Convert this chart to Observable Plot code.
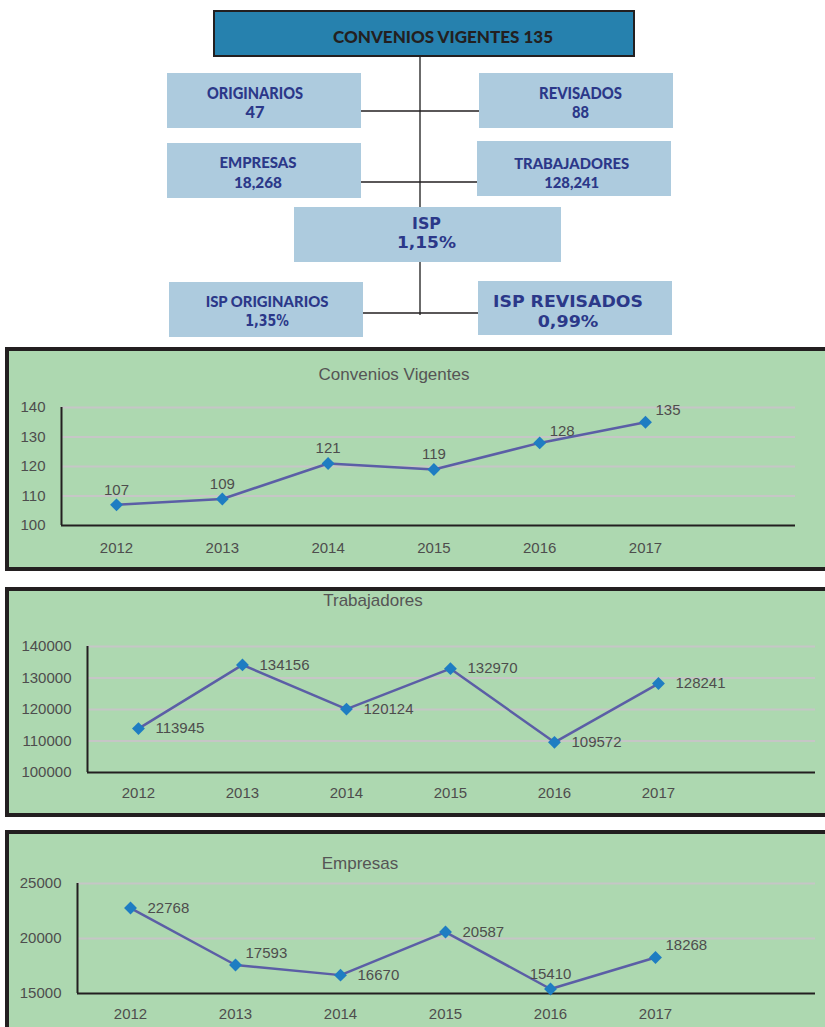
<!DOCTYPE html>
<html>
<head>
<meta charset="utf-8">
<script src="https://cdn.jsdelivr.net/npm/d3@7"></script>
<script src="https://cdn.jsdelivr.net/npm/@observablehq/plot@0.6"></script>
<style>
  html, body { margin: 0; padding: 0; background: #fff; }
  body { width: 825px; height: 1027px; overflow: hidden; position: relative; }
  .panel { position: absolute; box-sizing: border-box; border: 4px solid #231f20; background: #add8b0; }
  .ctitle { position: absolute; font-family: "Liberation Sans", Arial, sans-serif; font-size: 17px; color: #555;
            transform: translate(-50%, -50%); white-space: nowrap; }
  .chart { position: absolute; left: 0; }
  #diagram { position: absolute; left: 0; top: 0; }
</style>
</head>
<body>
<svg id="diagram" width="825" height="345"></svg>
<div class="panel" style="left:5px;top:347px;width:830px;height:224px"></div>
<div class="panel" style="left:5px;top:587px;width:830px;height:230px"></div>
<div class="panel" style="left:5px;top:830px;width:830px;height:220px"></div>
<div id="c1" class="chart" style="top:347px"></div>
<div id="c2" class="chart" style="top:587px"></div>
<div id="c3" class="chart" style="top:830px"></div>
<script>
// ---------------- DATA ----------------
const years = [2012, 2013, 2014, 2015, 2016, 2017];
const convenios = [107, 109, 121, 119, 128, 135];
const trabajadores = [113945, 134156, 120124, 132970, 109572, 128241];
const empresas = [22768, 17593, 16670, 20587, 15410, 18268];
const chartTitles = ["Convenios Vigentes", "Trabajadores", "Empresas"];
const conveniosTicks = [100, 110, 120, 130, 140];
const trabajadoresTicks = [100000, 110000, 120000, 130000, 140000];
const empresasTicks = [15000, 20000, 25000];

const summaryTitle = "CONVENIOS VIGENTES 135";
const summaryLabels = ["ORIGINARIOS", "REVISADOS", "EMPRESAS", "TRABAJADORES", "ISP", "ISP ORIGINARIOS", "ISP REVISADOS"];
const summaryValues = ["47", "88", "18,268", "128,241", "1,15%", "1,35%", "0,99%"];

// ---------------- DIAGRAM LAYOUT ----------------
const NAVY = "#2b3889";
const BOXFILL = "#adcbde";
const SANS = "Lato, 'Open Sans', sans-serif";
const WIDE = "'DejaVu Sans', Verdana, sans-serif";
const boxLayout = [
  {x0:167, y0:73,  x1:361, y1:128, cx:255,   lb:99.3,  lw:96,    vb:118.3, vw:19,   lf:SANS, vf:SANS, fs:16},
  {x0:479, y0:73,  x1:673, y1:128, cx:580.5, lb:99.3,  lw:83,    vb:118.3, vw:17,   lf:SANS, vf:SANS, fs:16},
  {x0:167, y0:143, x1:361, y1:198, cx:258,   lb:168.3, lw:77,    vb:187.7, vw:48,   lf:SANS, vf:SANS, fs:15.5},
  {x0:477, y0:141, x1:671, y1:196, cx:571.7, lb:169.3, lw:115,   vb:188.3, vw:55,   lf:SANS, vf:SANS, fs:15.5},
  {x0:294, y0:207, x1:561, y1:262, cx:426.5, lb:229,   lw:29,    vb:247.7, vw:59,   lf:WIDE, vf:WIDE, fs:16},
  {x0:169, y0:282, x1:363, y1:337, cx:267,   lb:306.7, lw:122.7, vb:326,   vw:43.7, lf:SANS, vf:WIDE, fs:15.5},
  {x0:478, y0:281, x1:672, y1:335, cx:568,   lb:306.7, lw:150,   vb:326.7, vw:60.7, lf:WIDE, vf:WIDE, fs:16.5}
];

const svg = d3.select("#diagram");
svg.append("line").attr("x1", 420).attr("x2", 420).attr("y1", 56).attr("y2", 315)
   .attr("stroke", "#6b6b6b").attr("stroke-width", 2);
[[361, 479, 111], [361, 477, 182], [363, 478, 313]].forEach(([a, b, y]) =>
  svg.append("line").attr("x1", a).attr("x2", b).attr("y1", y).attr("y2", y)
     .attr("stroke", "#231f20").attr("stroke-width", 1.5));
svg.append("rect").attr("x", 214).attr("y", 11).attr("width", 420).attr("height", 45)
   .attr("fill", "#2681ae").attr("stroke", "#231f20").attr("stroke-width", 2);
svg.append("text").attr("x", 443).attr("y", 43.3).attr("text-anchor", "middle")
   .attr("font-family", SANS).attr("font-weight", 900).attr("font-size", 17.5).attr("fill", "#231f20")
   .attr("textLength", 220).attr("lengthAdjust", "spacingAndGlyphs").text(summaryTitle);
boxLayout.forEach((b, i) => {
  svg.append("rect").attr("x", b.x0).attr("y", b.y0).attr("width", b.x1 - b.x0).attr("height", b.y1 - b.y0)
     .attr("fill", BOXFILL);
  svg.append("text").attr("x", b.cx).attr("y", b.lb).attr("text-anchor", "middle")
     .attr("font-family", b.lf).attr("font-weight", b.lf === SANS ? 900 : 700).attr("font-size", b.fs).attr("fill", NAVY)
     .attr("textLength", b.lw).attr("lengthAdjust", "spacingAndGlyphs").text(summaryLabels[i]);
  svg.append("text").attr("x", b.cx).attr("y", b.vb).attr("text-anchor", "middle")
     .attr("font-family", b.vf).attr("font-weight", b.vf === SANS ? 900 : 700).attr("font-size", b.fs).attr("fill", NAVY)
     .attr("textLength", b.vw).attr("lengthAdjust", "spacingAndGlyphs").text(summaryValues[i]);
});

// ---------------- CHARTS ----------------
const placementStyles = {
  above:   {textAnchor: "middle", dx: 0,  dy: -15},
  right:   {textAnchor: "start",  dx: 17, dy: 0},
  upRight: {textAnchor: "start",  dx: 10, dy: -12}
};

function lineChart(cfg) {
  const data = years.map((year, i) => ({year, value: cfg.values[i], i}));
  const labelMarks = Object.entries(placementStyles).map(([k, o]) =>
    Plot.text(data.filter(d => cfg.placements[d.i] === k), {
      x: "year", y: "value", text: d => String(d.value), ...o,
      fontSize: 15, fill: "#4d4d4d"
    }));
  const t = cfg.ticks;
  return Plot.plot({
    width: 825, height: cfg.height,
    marginLeft: cfg.marginLeft, marginRight: cfg.marginRight,
    marginTop: cfg.marginTop, marginBottom: cfg.marginBottom,
    style: {background: "transparent", fontFamily: "'Liberation Sans', Arial, sans-serif",
            fontSize: "15px", color: "#4d4d4d", overflow: "visible"},
    x: {type: "linear", domain: cfg.xDomain, label: null},
    y: {domain: [t[0], t[t.length - 1]], label: null},
    marks: [
      Plot.ruleY(t.slice(1), {stroke: "#c6c6c6", strokeWidth: 2}),
      Plot.ruleY([t[0]], {stroke: "#231f20", strokeWidth: 2}),
      Plot.ruleX([cfg.xDomain[0]], {stroke: "#231f20", strokeWidth: 2}),
      Plot.axisY({ticks: t, tickSize: 0, tickPadding: 16, tickFormat: d => String(d), fontSize: 15, label: null}),
      Plot.axisX({ticks: years, tickSize: 0, tickPadding: cfg.xPad, tickFormat: d => String(d), fontSize: 15, label: null}),
      Plot.line(data, {x: "year", y: "value", stroke: "#5b5ea6", strokeWidth: 2.5}),
      Plot.dot(data, {x: "year", y: "value", symbol: "diamond2", r: 5.8, fill: "#1e7dc2", stroke: "none"}),
      ...labelMarks
    ]
  });
}

function addTitle(text, x, y) {
  const d = document.createElement("div");
  d.className = "ctitle";
  d.style.left = x + "px"; d.style.top = y + "px";
  d.textContent = text;
  document.body.appendChild(d);
}

document.getElementById("c1").appendChild(lineChart({
  values: convenios, ticks: conveniosTicks, height: 224,
  marginLeft: 61, marginRight: 30, marginTop: 60, marginBottom: 46,
  xDomain: [2011.480, 2018.418], xPad: 17,
  placements: ["above", "above", "above", "above", "upRight", "upRight"]
}));
document.getElementById("c2").appendChild(lineChart({
  values: trabajadores, ticks: trabajadoresTicks, height: 230,
  marginLeft: 87, marginRight: 10, marginTop: 59, marginBottom: 45,
  xDomain: [2011.510, 2018.510], xPad: 15,
  placements: ["right", "right", "right", "right", "right", "right"]
}));
document.getElementById("c3").appendChild(lineChart({
  values: empresas, ticks: empresasTicks, height: 197,
  marginLeft: 77, marginRight: 10, marginTop: 53, marginBottom: 34,
  xDomain: [2011.495, 2018.524], xPad: 15,
  placements: ["right", "upRight", "right", "right", "above", "upRight"]
}));

addTitle(chartTitles[0], 394, 375);
addTitle(chartTitles[1], 373, 601);
addTitle(chartTitles[2], 360, 864);
</script>
</body>
</html>
